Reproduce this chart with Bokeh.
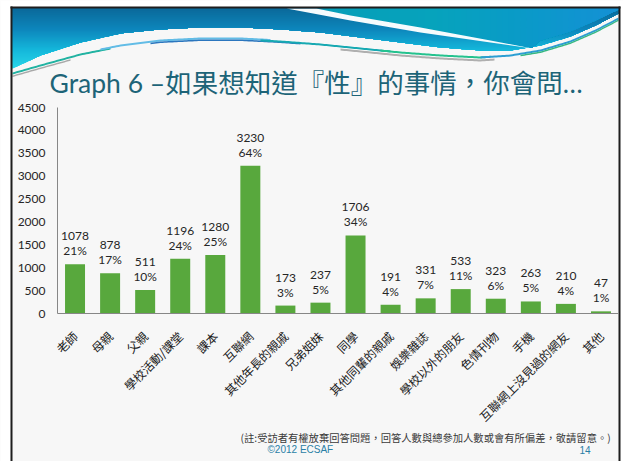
import math
import numpy as np
from bokeh.plotting import figure
from bokeh.models import ColumnDataSource, Range1d, FixedTicker
from bokeh.core.properties import value
from bokeh.embed import file_html
from bokeh.resources import INLINE

# ---------------- data ----------------
categories = ["老師", "母親", "父親", "學校活動/課堂", "課本", "互聯網", "其他年長的親戚", "兄弟姐妹",
              "同學", "其他同輩的親戚", "娛樂雜誌", "學校以外的朋友", "色情刊物", "手機",
              "互聯網上沒見過的網友", "其他"]
counts = [1078, 878, 511, 1196, 1280, 3230, 173, 237, 1706, 191, 331, 533, 323, 263, 210, 47]
percents = ["21%", "17%", "10%", "24%", "25%", "64%", "3%", "5%", "34%", "4%", "7%", "11%",
            "6%", "5%", "4%", "1%"]
y_ticks = [0, 500, 1000, 1500, 2000, 2500, 3000, 3500, 4000, 4500]
y_max = 4500

title_text = "Graph 6 –如果想知道『性』的事情，你會問…"
note_text = "(註:受訪者有權放棄回答問題，回答人數與總參加人數或會有所偏差，敬請留意。)"
copyright_text = "©2012 ECSAF"
page_text = "14"

# ---------------- style / layout (pixels) ----------------
PW, PH = 623, 461
BG = "#F7F7F7"
GREEN = "#58A83D"
AXIS = "#878787"
TXT = "#262626"
TITLE_C = "#1D6478"
TEAL_TXT = "#2A7FA6"
FRAME_C = "#1E1E1E"
CH_L, CH_R = 57, 618     # chart plot-area left / right
CH_B, CH_T = 313, 107    # chart plot-area bottom (0) / top (y_max)
BL0, BL1 = 10, 12
BR0, BR1 = 618, 620
BT0, BT1 = 6, 8

ncat = len(categories)
xpos = list(range(ncat))
ux = (CH_R - CH_L) / ncat
uy = (CH_B - CH_T) / y_max
x_rng = Range1d(-0.5 - CH_L / ux, -0.5 + (PW - CH_L) / ux)
y_rng = Range1d(-(PH - CH_B) / uy, y_max + CH_T / uy)

p = figure(width=PW, height=PH, x_range=x_rng, y_range=y_rng, output_backend="svg",
           toolbar_location=None, min_border=0, background_fill_color=BG,
           border_fill_color=BG, outline_line_color=None)
p.extra_x_ranges = {"px": Range1d(0, PW)}
p.extra_y_ranges = {"py": Range1d(PH, 0)}
p.xgrid.visible = False
p.ygrid.visible = False

# ---------------- slide decorations (pixel ranges) ----------------
def hexrgb(h):
    h = h.lstrip("#")
    return tuple(int(h[i:i + 2], 16) for i in (0, 2, 4))


def mix(stops, t):
    for (p0, c0), (p1, c1) in zip(stops[:-1], stops[1:]):
        if p0 <= t <= p1:
            f = 0 if p1 == p0 else (t - p0) / (p1 - p0)
            a, b = hexrgb(c0), hexrgb(c1)
            return "#%02x%02x%02x" % tuple(int(round(a[i] + (b[i] - a[i]) * f)) for i in range(3))
    return stops[-1][1] if t > stops[-1][0] else stops[0][1]


PX = dict(x_range_name="px", y_range_name="py")

XL, XR, YT = 12, 618, 8
B_pts = [(12, 68), (40, 55), (80, 42), (120, 33), (160, 29), (200, 27), (240, 27), (280, 29),
         (320, 32), (360, 37), (400, 42), (440, 47), (480, 50), (510, 50), (540, 45), (570, 36),
         (595, 25), (618, 13)]
C_pts = [(12, 72), (40, 64), (80, 53), (120, 45), (160, 40), (200, 38), (240, 38), (280, 40),
         (320, 43), (360, 47), (400, 51), (440, 54), (480, 56), (510, 54), (540, 49), (570, 40),
         (595, 29), (618, 17)]
sx = np.arange(XL, XR + 1, 2.0)
By = np.interp(sx, [q[0] for q in B_pts], [q[1] for q in B_pts])
Cy = np.interp(sx, [q[0] for q in C_pts], [q[1] for q in C_pts])

pxs, pys, pcs = [], [], []
vstops = [(8, "#0A6898"), (30, "#0D86BC"), (50, "#14B6DA"), (72, "#2ADAEA")]
for yk in range(72, 7, -2):
    bot = np.minimum(By, yk)
    pxs.append([XL, XR] + [float(v) for v in sx[::-1]])
    pys.append([YT, YT] + [float(v) for v in bot[::-1]])
    pcs.append(mix(vstops, yk))

R_pts = [(316, 8), (350, 15), (420, 27), (490, 40), (532, 47), (540, 40), (570, 31), (595, 20), (618, 9)]
rx = np.arange(316, XR + 1, 2.0)
Ry = np.interp(rx, [q[0] for q in R_pts], [q[1] for q in R_pts])
hstops = [(316, "#069EB8"), (430, "#06A3BC"), (520, "#0A9AC8"), (618, "#1590D6")]
for t in range(316, 614, 6):
    m = rx >= t
    pxs.append([t, XR] + [float(v) for v in rx[m][::-1]])
    pys.append([YT, YT] + [float(v) for v in Ry[m][::-1]])
    pcs.append(mix(hstops, t))

pxs.append([286, 350, 420, 490, 532, 490, 420, 350, 316])
pys.append([8, 20, 32, 42, 48, 40, 27, 15, 8])
pcs.append("#F6FBFD")


def ribbon(x0, x1, off, thick, color):
    m = (sx >= x0) & (sx <= x1)
    pxs.append([float(v) for v in sx[m]] + [float(v) for v in sx[m][::-1]])
    pys.append([float(v) for v in Cy[m] + off] + [float(v) for v in (Cy[m] + off + thick)[::-1]])
    pcs.append(color)


ribbon(12, 110, 0, 2, "#22B3A2")
ribbon(100, 270, -1, 2, "#62BCE6")
ribbon(150, 300, 1, 1.5, "#2B76BE")
ribbon(260, 390, 0, 2, "#17A9B2")
ribbon(380, 490, 0, 2, "#24C28E")
ribbon(480, 618, 0, 2, "#2C9ED2")
ribbon(520, 618, 2, 1.5, "#36B882")
ribbon(340, 495, 3, 2, "#AFAFAF")
ribbon(12, 70, 3, 1.5, "#A9A9A9")

p.patches(xs=pxs, ys=pys, fill_color=pcs, line_color=None, **PX)

# white outside of the slide, and its dark frame
p.quad(left=[0, BR1, 0], right=[BL0, PW, PW], bottom=[PH, PH, BT0], top=[0, 0, 0],
       fill_color="#FFFFFF", line_color=None, **PX)
p.quad(left=[BL0, BR0, BL0], right=[BL1, BR1, BR1], bottom=[PH, PH, BT1], top=[BT0, BT0, BT0],
       fill_color=FRAME_C, line_color=None, **PX)

p.text(x=[49], y=[82], text=[title_text], text_font=value("Lato, Noto Sans CJK TC"),
       text_font_size="26.5px", text_color=TITLE_C, text_baseline="alphabetic",
       text_align="left", **PX)
p.text(x=[240], y=[437], text=[note_text], text_font=value("Noto Sans CJK TC"),
       text_font_size="10.3px", text_color="#3A3A3A", text_baseline="middle",
       text_align="left", **PX)
p.text(x=[267, 579], y=[449, 449], text=[copyright_text, page_text],
       text_font=value("Liberation Sans"), text_font_size="10px",
       text_color=TEAL_TXT, text_baseline="middle", text_align="left", **PX)

# ---------------- chart ----------------
src = ColumnDataSource(dict(x=xpos, cat=categories, count=counts,
                            count_str=[str(c) for c in counts], pct=percents))

p.vbar(x="x", top="count", width=0.57, source=src, fill_color=GREEN, line_color=None)
p.text(x="x", y="count", text="count_str", source=src, text_align="center",
       text_baseline="bottom", y_offset=-24, text_font=value("Lato"),
       text_font_size="12px", text_color=TXT)
p.text(x="x", y="count", text="pct", source=src, text_align="center",
       text_baseline="bottom", y_offset=-6, text_font=value("Lato"),
       text_font_size="12px", text_color=TXT)

p.yaxis.fixed_location = -0.5
p.yaxis.bounds = (0, y_max)
p.yaxis.ticker = FixedTicker(ticks=y_ticks)
p.yaxis.major_tick_line_color = None
p.yaxis.major_tick_out = 0
p.yaxis.major_tick_in = 0
p.yaxis.minor_tick_line_color = None
p.yaxis.axis_line_color = AXIS
p.yaxis.major_label_standoff = 12
p.yaxis.major_label_text_font = "Lato"
p.yaxis.major_label_text_font_size = "12px"
p.yaxis.major_label_text_color = TXT

p.xaxis.fixed_location = 0
p.xaxis.bounds = (-0.5, ncat - 0.5)
p.xaxis.ticker = FixedTicker(ticks=xpos)
p.xaxis.major_label_overrides = {i: c for i, c in zip(xpos, categories)}
p.xaxis.major_tick_line_color = None
p.xaxis.major_tick_out = 0
p.xaxis.major_tick_in = 0
p.xaxis.minor_tick_line_color = None
p.xaxis.axis_line_color = AXIS
p.xaxis.major_label_orientation = math.pi / 4
p.xaxis.major_label_standoff = 20
p.xaxis.major_label_text_font = "Noto Sans CJK TC"
p.xaxis.major_label_text_font_size = "12px"
p.xaxis.major_label_text_color = "#1a1a1a"

open("out.html", "w").write(file_html(p, INLINE))
